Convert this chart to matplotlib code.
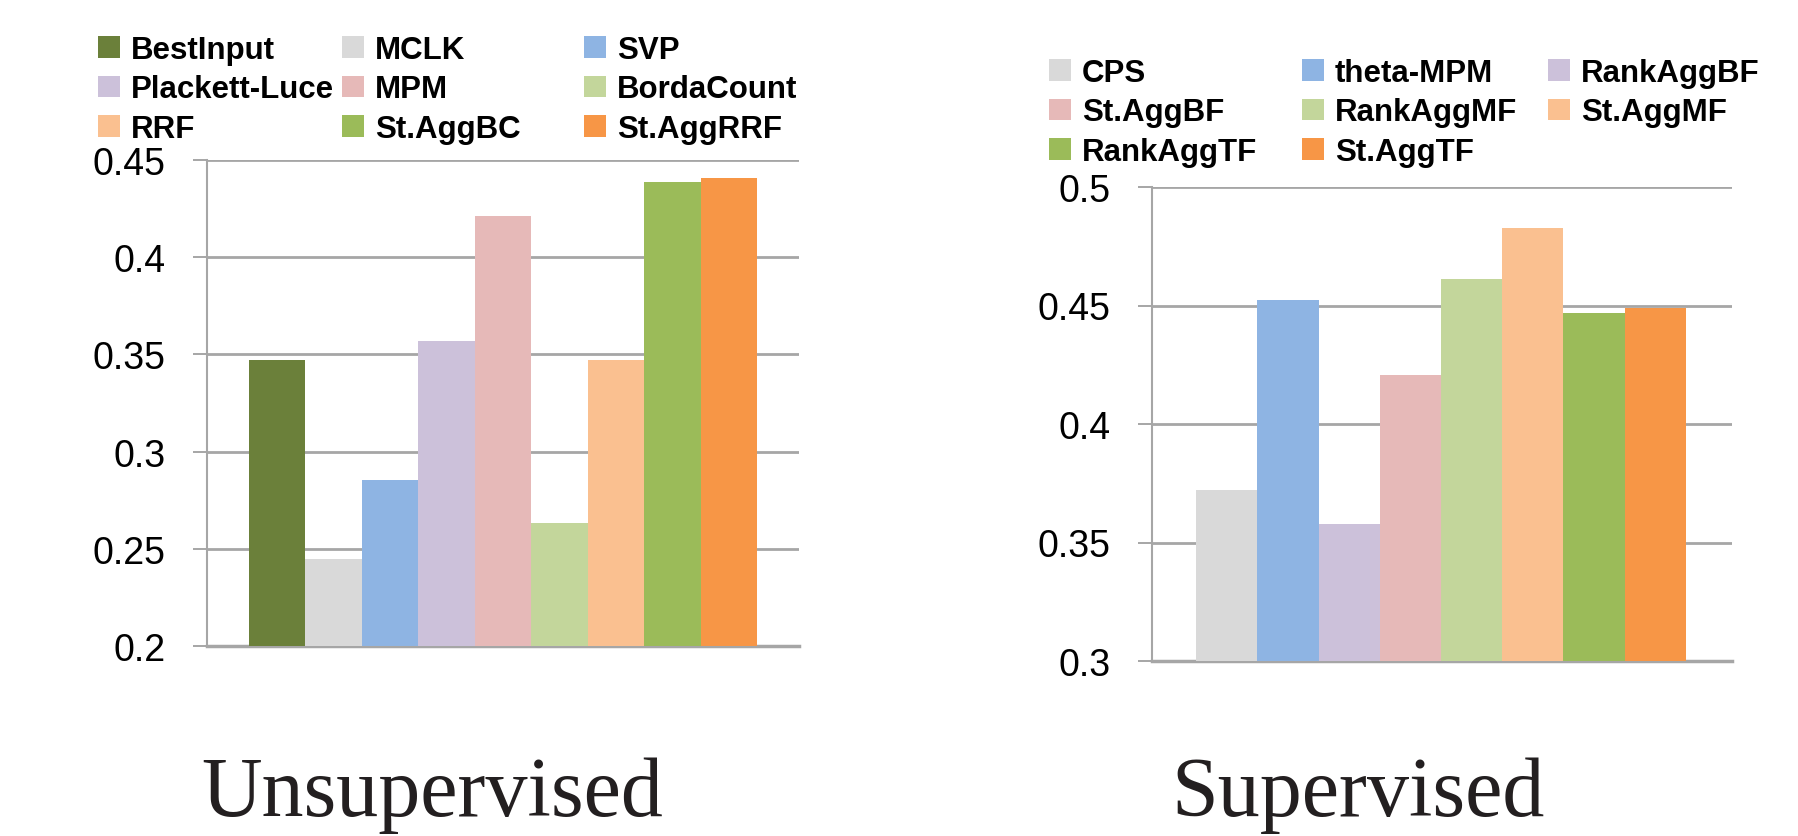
import matplotlib.pyplot as plt
from matplotlib.patches import Patch

# Unsupervised methods
unsup_names = ["BestInput", "MCLK", "SVP", "Plackett-Luce", "MPM",
               "BordaCount", "RRF", "St.AggBC", "St.AggRRF"]
unsup_values = [0.347, 0.245, 0.2855, 0.357, 0.421, 0.2635, 0.347, 0.4385, 0.4405]
unsup_colors = ["#6B803A", "#D9D9D9", "#8EB4E3", "#CCC1DA", "#E6B9B8",
                "#C3D69B", "#FAC090", "#9BBB59", "#F79646"]
unsup_ticks = [0.2, 0.25, 0.3, 0.35, 0.4, 0.45]

# Supervised methods
sup_names = ["CPS", "theta-MPM", "RankAggBF", "St.AggBF", "RankAggMF",
             "St.AggMF", "RankAggTF", "St.AggTF"]
sup_values = [0.372, 0.4525, 0.358, 0.4205, 0.4613, 0.4826, 0.4467, 0.4488]
sup_colors = ["#D9D9D9", "#8EB4E3", "#CCC1DA", "#E6B9B8", "#C3D69B",
              "#FAC090", "#9BBB59", "#F79646"]
sup_ticks = [0.3, 0.35, 0.4, 0.45, 0.5]

W, H = 1799, 837
grid_color = "#A6A6A6"
fig = plt.figure(figsize=(W / 100, H / 100), dpi=100)


def px_axes(x0, y0, x1, y1):
    # rectangle given in pixel coordinates (top-left origin)
    return fig.add_axes([x0 / W, (H - y1) / H, (x1 - x0) / W, (y1 - y0) / H])


def bar_panel(ax, values, colors, ticks, xlim):
    x = range(len(values))
    ax.bar(x, [v - ticks[0] for v in values], bottom=ticks[0], width=1.0,
           color=colors, edgecolor="none", zorder=3)
    ax.set_xlim(*xlim)
    ax.set_ylim(ticks[0], ticks[-1])
    ax.set_yticks(ticks)
    ax.set_yticklabels([f"{t:g}" for t in ticks])
    ax.set_xticks([])
    ax.yaxis.grid(True, color=grid_color, linewidth=2.0, zorder=0)
    ax.set_axisbelow(True)
    for side in ["top", "right"]:
        ax.spines[side].set_visible(False)
    ax.spines["left"].set_color(grid_color)
    ax.spines["left"].set_linewidth(1.5)
    ax.spines["bottom"].set_color(grid_color)
    ax.spines["bottom"].set_linewidth(2.5)
    ax.tick_params(axis="y", direction="out", length=10, width=1.4,
                   color=grid_color, pad=20, labelsize=27)
    for lab in ax.get_yticklabels():
        lab.set_fontfamily("Liberation Sans")


def column_legend(names, colors, idx, x_px, top_px):
    handles = [Patch(facecolor=colors[i], edgecolor="none") for i in idx]
    labels = [names[i] for i in idx]
    leg = fig.legend(handles, labels, loc="upper left",
                     bbox_to_anchor=(x_px / W, 1 - top_px / H),
                     frameon=False, borderpad=0, borderaxespad=0,
                     handlelength=0.7, handleheight=0.68, handletextpad=0.36,
                     labelspacing=0.3,
                     prop={"family": "Liberation Sans", "weight": "bold", "size": 22.5})
    return leg


ax1 = px_axes(207, 161, 799, 647)
bar_panel(ax1, unsup_values, unsup_colors, unsup_ticks, (-1.244, 9.244))

ax2 = px_axes(1152, 188, 1732, 662)
bar_panel(ax2, sup_values, sup_colors, sup_ticks, (-1.221, 8.254))

# legends laid out row by row, three per row
for col, xp in enumerate([98, 342, 584]):
    column_legend(unsup_names, unsup_colors, list(range(col, 9, 3)), xp, 36)
for col, xp in enumerate([1049, 1302, 1548]):
    column_legend(sup_names, sup_colors, list(range(col, 8, 3)), xp, 59)

title_font = {"family": "Liberation Serif", "size": 60.5, "color": "#231F20"}
fig.text(432 / W, 1 - 816 / H, "Unsupervised", ha="center", va="baseline", **title_font)
fig.text(1358 / W, 1 - 816 / H, "Supervised", ha="center", va="baseline", **title_font)

fig.savefig("out.png", dpi=100, facecolor="white")
